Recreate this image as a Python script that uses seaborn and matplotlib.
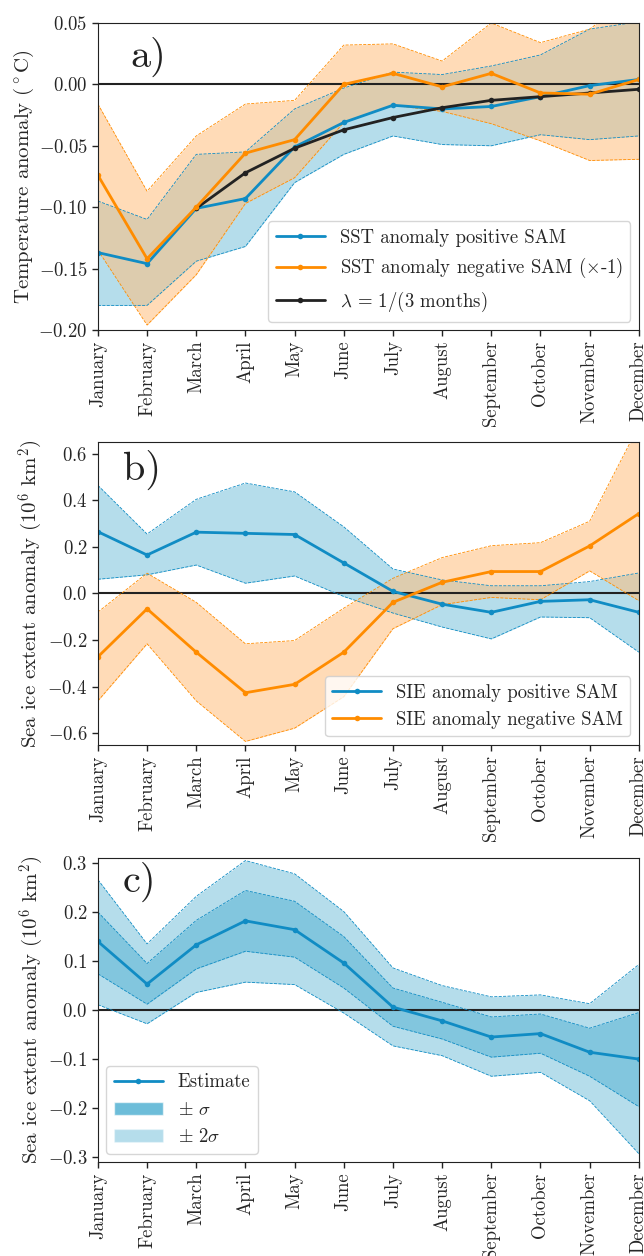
import numpy as np
import matplotlib
matplotlib.use("Agg")
import matplotlib.pyplot as plt
from matplotlib.patches import Patch
import seaborn as sns

# month labels on the x axis
months = ["January", "February", "March", "April", "May", "June", "July",
          "August", "September", "October", "November", "December"]
nan = np.nan

# a) SST anomaly (degC)
sst_pos = [-0.137, -0.146, -0.101, -0.093, -0.051, -0.031, -0.017, -0.020, -0.018, -0.010, -0.001, 0.004]
sst_pos_hi = [-0.095, -0.110, -0.057, -0.055, -0.020, -0.003, 0.010, 0.008, 0.015, 0.024, 0.045, 0.051]
sst_pos_lo = [-0.180, -0.180, -0.144, -0.132, -0.080, -0.057, -0.042, -0.049, -0.050, -0.041, -0.045, -0.042]
sst_neg = [-0.074, -0.142, -0.100, -0.056, -0.045, 0.000, 0.009, -0.002, 0.009, -0.007, -0.008, 0.004]
sst_neg_hi = [-0.016, -0.087, -0.042, -0.016, -0.013, 0.032, 0.033, 0.019, 0.050, 0.034, 0.045, 0.075]
sst_neg_lo = [-0.135, -0.196, -0.155, -0.097, -0.076, -0.031, -0.017, -0.022, -0.032, -0.046, -0.062, -0.061]
sst_lambda = [nan, nan, -0.101, -0.072, -0.052, -0.037, -0.027, -0.019, -0.013, -0.010, -0.007, -0.004]
sst_ticks = [-0.20, -0.15, -0.10, -0.05, 0.00, 0.05]

# b) SIE anomaly (10^6 km^2)
sie_pos = [0.265, 0.165, 0.263, 0.258, 0.253, 0.131, 0.009, -0.046, -0.081, -0.034, -0.027, -0.081]
sie_pos_hi = [0.464, 0.255, 0.404, 0.474, 0.436, 0.286, 0.105, 0.058, 0.033, 0.033, 0.051, 0.088]
sie_pos_lo = [0.061, 0.080, 0.122, 0.044, 0.075, -0.013, -0.084, -0.144, -0.195, -0.101, -0.104, -0.252]
sie_neg = [-0.272, -0.066, -0.252, -0.426, -0.390, -0.252, -0.038, 0.048, 0.094, 0.094, 0.204, 0.343]
sie_neg_hi = [-0.080, 0.087, -0.038, -0.216, -0.202, -0.063, 0.065, 0.154, 0.205, 0.218, 0.310, 0.720]
sie_neg_lo = [-0.461, -0.216, -0.461, -0.635, -0.578, -0.443, -0.151, -0.048, -0.017, -0.027, 0.097, -0.031]
sie_ticks = [-0.6, -0.4, -0.2, 0.0, 0.2, 0.4, 0.6]

# c) estimate with 1 and 2 sigma bands
est = [0.140, 0.053, 0.133, 0.182, 0.164, 0.096, 0.006, -0.022, -0.055, -0.048, -0.086, -0.100]
s1_hi = [0.200, 0.095, 0.183, 0.244, 0.222, 0.150, 0.045, 0.016, -0.014, -0.008, -0.037, -0.005]
s1_lo = [0.074, 0.012, 0.084, 0.120, 0.108, 0.045, -0.033, -0.059, -0.096, -0.088, -0.135, -0.197]
s2_hi = [0.266, 0.135, 0.232, 0.305, 0.278, 0.201, 0.086, 0.050, 0.027, 0.031, 0.013, 0.093]
s2_lo = [0.011, -0.028, 0.036, 0.057, 0.052, -0.006, -0.073, -0.093, -0.135, -0.127, -0.185, -0.293]
est_ticks = [-0.3, -0.2, -0.1, 0.0, 0.1, 0.2, 0.3]

sns.set_style("ticks")
plt.rcParams["font.family"] = ["cmr10", "DejaVu Serif"]
plt.rcParams["mathtext.fontset"] = "cm"
plt.rcParams["axes.formatter.use_mathtext"] = True
plt.rcParams["font.size"] = 13.5

BLUE = "#108cc4"
BLUE_FILL = "#0c91c0"
ORANGE = "#ff8c00"
ORANGE_FILL = "#ffbf7c"
BLACK = "#222222"
FS = 13.5

x = np.arange(12)

fig = plt.figure(figsize=(6.44, 12.56), dpi=100)
ax_a = fig.add_axes([0.152, 0.7373, 0.840, 0.2444])
ax_b = fig.add_axes([0.152, 0.4069, 0.840, 0.2412])
ax_c = fig.add_axes([0.152, 0.0748, 0.840, 0.2420])


def band(ax, lo, hi, fill, alpha, edge):
    ax.fill_between(x, lo, hi, color=fill, alpha=alpha, lw=0)
    ax.plot(x, lo, ls="--", lw=0.6, color=edge)
    ax.plot(x, hi, ls="--", lw=0.6, color=edge)


def line(ax, y, color, label):
    sns.lineplot(x=x, y=y, ax=ax, color=color, lw=2, marker="o", markersize=4,
                 markeredgewidth=0, label=label, legend=False)
    return ax.lines[-1]


def finish(ax, ylim, yticks, ylabel, letter, lx, ly):
    ax.axhline(0, color=BLACK, lw=1.5, zorder=1.5)
    ax.set_xlim(0, 11)
    ax.set_ylim(*ylim)
    ax.set_yticks(yticks)
    ax.set_xticks(x)
    ax.set_xticklabels(months, rotation=90)
    ax.set_ylabel(ylabel, fontsize=15, labelpad=1.5)
    ax.tick_params(labelsize=FS, length=4, width=1, color=BLACK)
    for s in ax.spines.values():
        s.set_color(BLACK)
    ax.text(lx, ly, letter, transform=ax.transAxes, fontsize=29,
            va="center", ha="left", color=BLACK)


# panel a
band(ax_a, sst_pos_lo, sst_pos_hi, BLUE_FILL, 0.3, BLUE)
band(ax_a, sst_neg_lo, sst_neg_hi, ORANGE_FILL, 0.55, ORANGE)
h1 = line(ax_a, sst_pos, BLUE, "SST anomaly positive SAM")
h3 = line(ax_a, sst_lambda, BLACK, r"$\lambda$ = 1/(3 months)")
h2 = line(ax_a, sst_neg, ORANGE, r"SST anomaly negative SAM ($\times$-1)")
finish(ax_a, (-0.20, 0.05), sst_ticks,
       r"Temperature anomaly ($^\circ$C)", "a)", 0.06, 0.889)
ax_a.legend(handles=[h1, h2, h3], loc="lower right", handlelength=2.6,
            fontsize=FS, borderaxespad=0.45)

# panel b
band(ax_b, sie_pos_lo, sie_pos_hi, BLUE_FILL, 0.3, BLUE)
band(ax_b, sie_neg_lo, sie_neg_hi, ORANGE_FILL, 0.55, ORANGE)
g1 = line(ax_b, sie_pos, BLUE, "SIE anomaly positive SAM")
g2 = line(ax_b, sie_neg, ORANGE, "SIE anomaly negative SAM")
finish(ax_b, (-0.65, 0.65), sie_ticks,
       r"Sea ice extent anomaly (10$^6$ km$^2$)", "b)", 0.046, 0.908)
ax_b.legend(handles=[g1, g2], loc="lower right", handlelength=2.6,
            fontsize=FS, borderaxespad=0.45)

# panel c
band(ax_c, s2_lo, s2_hi, BLUE_FILL, 0.3, BLUE)
band(ax_c, s1_lo, s1_hi, BLUE_FILL, 0.3, BLUE)
e1 = line(ax_c, est, BLUE, "Estimate")
finish(ax_c, (-0.31, 0.31), est_ticks,
       r"Sea ice extent anomaly (10$^6$ km$^2$)", "c)", 0.046, 0.92)
p1 = Patch(facecolor=BLUE_FILL, alpha=0.6, label=r"$\pm\ \sigma$")
p2 = Patch(facecolor=BLUE_FILL, alpha=0.3, label=r"$\pm\ 2\sigma$")
ax_c.legend(handles=[e1, p1, p2], loc="lower left", handlelength=2.6,
            fontsize=FS, borderaxespad=0.45)

fig.savefig("out.png", dpi=100)
